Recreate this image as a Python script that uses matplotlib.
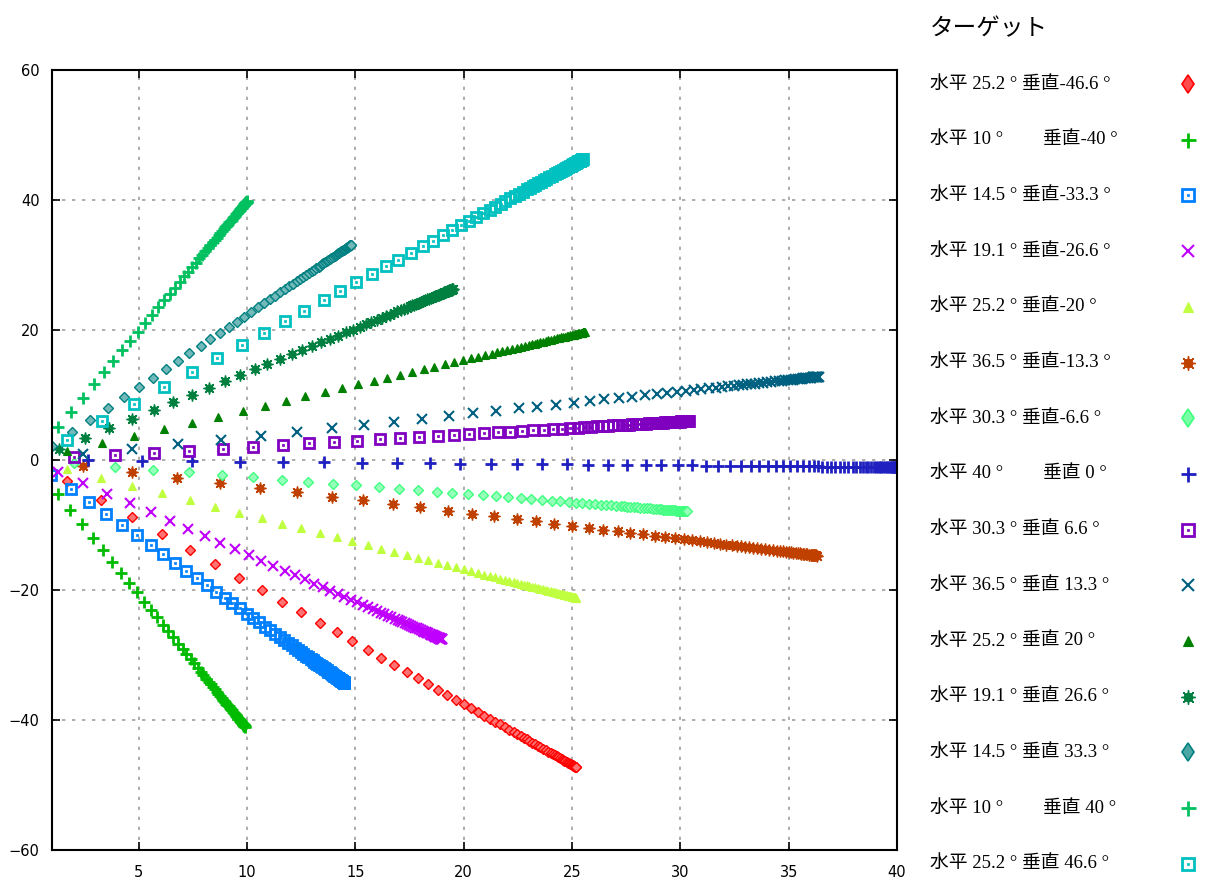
import numpy as np
import matplotlib
matplotlib.use("Agg")
import matplotlib.pyplot as plt
from matplotlib.colors import to_rgb

# target angles (legend text)
h_deg = [25.2, 10, 14.5, 19.1, 25.2, 36.5, 30.3, 40, 30.3, 36.5, 25.2, 19.1, 14.5, 10, 25.2]
v_deg = [-46.6, -40, -33.3, -26.6, -20, -13.3, -6.6, 0, 6.6, 13.3, 20, 26.6, 33.3, 40, 46.6]

# where each gaze track actually settles
end_x = [25.2, 9.9, 14.5, 19.0, 25.2, 36.3, 30.3, 40.0, 30.4, 36.4, 25.6, 19.5, 14.8, 10.0, 25.5]
end_y = [-47.3, -41.0, -34.3, -27.6, -21.2, -14.7, -7.9, -1.1, 6.0, 12.8, 19.7, 26.3, 33.1, 39.8, 46.3]

# fraction of the way to the target at each sample
progress = [0.067, 0.129, 0.187, 0.2415, 0.292, 0.3385, 0.383, 0.4235, 0.461, 0.496,
            0.531, 0.561, 0.590, 0.619, 0.643, 0.666, 0.689, 0.710, 0.728, 0.747,
            0.763, 0.7795, 0.794, 0.807, 0.820, 0.8315, 0.841, 0.851, 0.860, 0.869,
            0.877, 0.885, 0.892, 0.899, 0.904, 0.909, 0.914, 0.919, 0.924, 0.929,
            0.934, 0.939, 0.944, 0.949, 0.953, 0.957, 0.961, 0.964, 0.967, 0.970,
            0.973, 0.976, 0.978, 0.980, 0.982, 0.984, 0.986, 0.988, 0.990, 0.992,
            0.993, 0.994, 0.995, 0.996, 0.997, 0.998, 0.999, 1.0]

colors = ["#ff0000", "#00bb00", "#0080ff", "#c000ff", "#c0ff40", "#c04000", "#40ff80",
          "#2020c0", "#8000c0", "#006080", "#008000", "#008040", "#008080", "#00c060", "#00c0c0"]
kinds = ["diamond", "plus", "square", "cross", "triangle", "bug"] * 3


def tint(c, k=0.45):
    r, g, b = to_rgb(c)
    return (r + (1 - r) * k, g + (1 - g) * k, b + (1 - b) * k)


def draw(ax, x, y, kind, c, scale=1.0, legend=False):
    s = scale
    if kind == "diamond":
        if legend:
            ax.plot(x, y, ls="none", marker="d", ms=9.5, mfc=tint(c, 0.3), mec=c, mew=1.2)
        else:
            ax.plot(x, y, ls="none", marker="D", ms=5.5, mfc=tint(c), mec=c, mew=1.0)
    elif kind == "plus":
        ax.plot(x, y, ls="none", marker="+", ms=9 * s, mew=2.0, color=c)
    elif kind == "square":
        ax.plot(x, y, ls="none", marker="s", ms=7 * s, mfc="none", mec=c, mew=2.0)
        ax.plot(x, y, ls="none", marker="s", ms=1.6 * s, mfc=c, mec=c, mew=0.5)
    elif kind == "cross":
        ax.plot(x, y, ls="none", marker="x", ms=7 * s, mew=1.5, color=c)
    elif kind == "triangle":
        ax.plot(x, y, ls="none", marker="^", ms=6 * s, mfc=c, mec=c, mew=0.8)
    elif kind == "bug":
        ax.plot(x, y, ls="none", marker=(8, 2, 0), ms=8.5 * s, mew=1.0, color=c)
        ax.plot(x, y, ls="none", marker="o", ms=5 * s, mfc=c, mec=c)


fig = plt.figure(figsize=(12.07, 8.82), dpi=100)
ax = fig.add_axes([52 / 1207, 1 - 850 / 882, (897 - 52) / 1207, (850 - 70) / 882])

p = np.array(progress)
for i in range(len(h_deg)):
    draw(ax, end_x[i] * p, end_y[i] * p, kinds[i], colors[i])

ax.set_xlim(1, 40)
ax.set_ylim(-60, 60)
ax.set_xticks([5, 10, 15, 20, 25, 30, 35, 40])
ax.set_yticks([-60, -40, -20, 0, 20, 40, 60])
ax.grid(True, color="#a0a0a0", ls=(0, (2, 4)), lw=1.2)
ax.tick_params(direction="in", length=6, width=1.2, top=True, right=True,
               labelsize=10.5, colors="black")
ax.tick_params(axis="x", pad=11)
ax.tick_params(axis="y", pad=9)
for sp in ax.spines.values():
    sp.set_linewidth(1.5)

# legend drawn by hand on a pixel-space overlay
lax = fig.add_axes([0, 0, 1, 1], facecolor="none")
lax.set_xlim(0, 1207)
lax.set_ylim(882, 0)
lax.axis("off")

lax.text(930, 29, "ターゲット", fontsize=17, family=["Noto Sans CJK JP", "DejaVu Sans"],
         va="center", ha="left")

lab_font = ["Liberation Serif", "Noto Sans CJK JP"]
for i in range(len(h_deg)):
    yy = 84 + i * 55.7
    lax.text(930, yy, "水平 %g °" % h_deg[i], fontsize=13.5, family=lab_font,
             va="center", ha="left")
    vx = 1043 if float(h_deg[i]).is_integer() else 1022
    vtxt = "垂直%g °" % v_deg[i] if v_deg[i] < 0 else "垂直 %g °" % v_deg[i]
    lax.text(vx, yy, vtxt, fontsize=13.5, family=lab_font, va="center", ha="left")
    draw(lax, [1188], [yy], kinds[i], colors[i], scale=1.2, legend=True)

fig.savefig("out.png", dpi=100)
